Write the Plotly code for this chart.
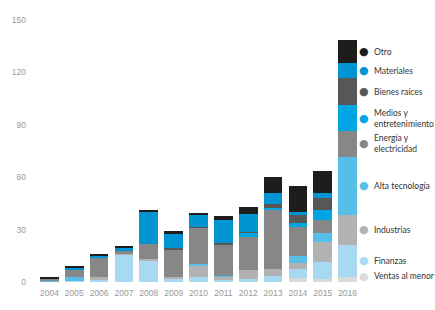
import plotly.graph_objects as go

years = ["2004", "2005", "2006", "2007", "2008", "2009", "2010", "2011", "2012", "2013", "2014", "2015", "2016"]

# stacked from bottom to top
series_names = ["Ventas al menor", "Finanzas", "Industrias", "Alta tecnología",
                "Energía y electricidad", "Medios y entretenimiento", "Bienes raíces",
                "Materiales", "Otro"]
legend_labels = ["Ventas al menor", "Finanzas", "Industrias", "Alta tecnología",
                 "Energía y<br>electricidad", "Medios y<br>entretenimiento", "Bienes raíces",
                 "Materiales", "Otro"]
colors = ["#dadada", "#a8d9f2", "#b2b2b2", "#56bfe8", "#878787",
          "#00a6e3", "#575756", "#0094d2", "#1d1d1b"]

ventas     = [0,   0,   0,   0,    0,    0,    0,    0,    0,    0,    2.2,  1.9,  2.8]
finanzas   = [0.3, 0.5, 1.5, 15.5, 12.3, 2.0,  2.6,  1.0,  1.7,  3.7,  5.2,  9.7,  18.5]
industrias = [0,   0,   1.1, 0.5,  0.9,  1.1,  6.9,  2.0,  5.2,  3.7,  3.7,  11.2, 17.3]
alta_tec   = [0.7, 2.4, 0,   0,    0,    0,    0.6,  0.6,  0,    0,    3.7,  5.2,  33.0]
energia    = [1.0, 4.1, 11.2, 1.5, 8.8,  15.7, 20.9, 17.7, 18.7, 34.3, 16.6, 7.5,  15.0]
medios     = [0,   0,   0,   0,    0,    0,    0,    0,    2.6,  0.6,  2.4,  5.6,  14.5]
bienes     = [0,   0,   0,   0,    0,    0.7,  0.7,  0.9,  0.7,  2.2,  4.3,  6.9,  15.7]
materiales = [0,   0.8, 1.1, 2.0,  18.3, 8.2,  6.9,  13.2, 10.0, 6.2,  1.9,  2.8,  8.4]
otro       = [0.5, 1.2, 1.1, 1.0,  1.1,  1.5,  0.9,  2.2,  3.9,  9.3,  14.9, 12.5, 13.4]

series = [ventas, finanzas, industrias, alta_tec, energia, medios, bienes, materiales, otro]

y_ticks = [0, 30, 60, 90, 120, 150]

fig = go.Figure()
for name, vals, col in zip(series_names, series, colors):
    fig.add_trace(go.Bar(x=years, y=vals, name=name, marker=dict(color=col, line=dict(width=0)),
                         showlegend=False))

# legend labels placed beside the 2016 bar, at the middle of each segment
cum = 0
for lab, vals, col in zip(legend_labels, series, colors):
    v = vals[-1]
    mid = max(cum + v / 2, 3.4)
    cum += v
    fig.add_annotation(x=1.013, y=mid, xref="paper", yref="y", text="●", showarrow=False,
                       font=dict(size=11, color=col, family="DejaVu Sans"),
                       xanchor="center", yanchor="middle")
    fig.add_annotation(x=1.036, y=mid, xref="paper", yref="y", text=lab, showarrow=False,
                       font=dict(size=8.5, color="#333333", family="Lato"),
                       xanchor="left", yanchor="middle", align="left")

fig.update_layout(
    width=435, height=310,
    barmode="stack", bargap=0.25,
    plot_bgcolor="white", paper_bgcolor="white",
    margin=dict(l=31, r=75, t=20, b=21),
    font=dict(family="Liberation Sans", size=8, color="#999999"),
    xaxis=dict(showgrid=False, showline=False, zeroline=False, ticks="",
               ticklabelstandoff=4,
               tickfont=dict(size=8.5, color="#999999")),
    yaxis=dict(range=[0, 150], tickvals=y_ticks, showgrid=False, zeroline=False,
               showline=False, ticks="", ticklabelstandoff=10,
               tickfont=dict(size=8.5, color="#999999")),
)

fig.write_html("out.html")
